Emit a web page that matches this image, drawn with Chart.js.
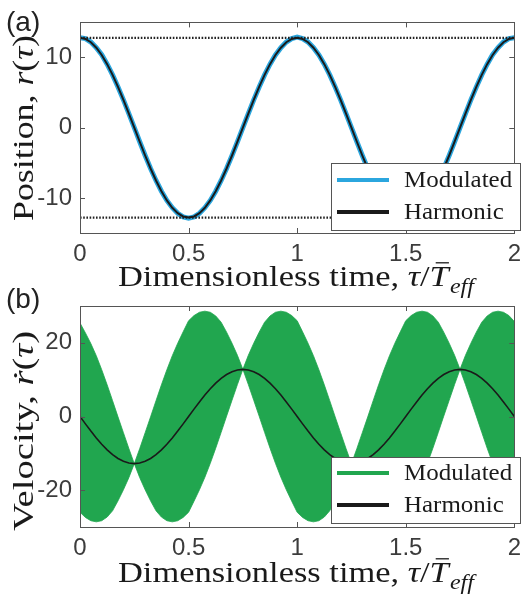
<!DOCTYPE html>
<html>
<head>
<meta charset="utf-8">
<script src="https://cdn.jsdelivr.net/npm/chart.js@4.4.1/dist/chart.umd.min.js"></script>
<style>
  body { margin: 0; background: #fff; }
  #wrap { position: relative; width: 528px; height: 595px; }
  canvas { position: absolute; left: 0; }
  #posChart { top: 0; }
  #velChart { top: 280px; }
</style>
</head>
<body>
<div id="wrap">
  <canvas id="posChart" width="528" height="300"></canvas>
  <canvas id="velChart" width="528" height="315"></canvas>
</div>
<script>
// dimensionless time tau / T_eff
const tau = [
  0, 0.025, 0.05, 0.075, 0.1, 0.125, 0.15, 0.175, 0.2, 0.225,
  0.25, 0.275, 0.3, 0.325, 0.35, 0.375, 0.4, 0.425, 0.45, 0.475,
  0.5, 0.525, 0.55, 0.575, 0.6, 0.625, 0.65, 0.675, 0.7, 0.725,
  0.75, 0.775, 0.8, 0.825, 0.85, 0.875, 0.9, 0.925, 0.95, 0.975,
  1, 1.025, 1.05, 1.075, 1.1, 1.125, 1.15, 1.175, 1.2, 1.225,
  1.25, 1.275, 1.3, 1.325, 1.35, 1.375, 1.4, 1.425, 1.45, 1.475,
  1.5, 1.525, 1.55, 1.575, 1.6, 1.625, 1.65, 1.675, 1.7, 1.725,
  1.75, 1.775, 1.8, 1.825, 1.85, 1.875, 1.9, 1.925, 1.95, 1.975, 2
];

// (a) position
const posHarmonic = [
  12.8, 12.64, 12.17, 11.4, 10.36, 9.05, 7.52, 5.81, 3.96, 2.0,
  0, -2.0, -3.96, -5.81, -7.52, -9.05, -10.36, -11.4, -12.17, -12.64,
  -12.8, -12.64, -12.17, -11.4, -10.36, -9.05, -7.52, -5.81, -3.96, -2.0,
  0, 2.0, 3.96, 5.81, 7.52, 9.05, 10.36, 11.4, 12.17, 12.64,
  12.8, 12.64, 12.17, 11.4, 10.36, 9.05, 7.52, 5.81, 3.96, 2.0,
  0, -2.0, -3.96, -5.81, -7.52, -9.05, -10.36, -11.4, -12.17, -12.64,
  -12.8, -12.64, -12.17, -11.4, -10.36, -9.05, -7.52, -5.81, -3.96, -2.0,
  0, 2.0, 3.96, 5.81, 7.52, 9.05, 10.36, 11.4, 12.17, 12.64, 12.8
];
const posModulated = [
  12.8, 12.7, 12.2, 11.4, 10.4, 9.05, 7.52, 5.81, 3.96, 2.0,
  0, -2.0, -3.96, -5.81, -7.52, -9.05, -10.36, -11.4, -12.2, -12.7,
  -12.9, -12.7, -12.2, -11.4, -10.36, -9.05, -7.52, -5.81, -3.96, -2.0,
  0, 2.0, 3.96, 5.81, 7.52, 9.05, 10.36, 11.4, 12.2, 12.7,
  12.9, 12.7, 12.2, 11.4, 10.36, 9.05, 7.52, 5.81, 3.96, 2.0,
  0, -2.0, -3.96, -5.81, -7.52, -9.05, -10.36, -11.4, -12.17, -12.64,
  -12.8, -12.64, -12.17, -11.4, -10.36, -9.05, -7.52, -5.81, -3.96, -2.0,
  0, 2.0, 3.96, 5.81, 7.52, 9.05, 10.4, 11.4, 12.2, 12.7, 12.8
];
const posBoundLevels = [12.8, -12.8];
const posBoundSpan = [0, 2];

// (b) velocity
const velHarmonic = [
  0, -2.0, -3.96, -5.81, -7.52, -9.05, -10.36, -11.4, -12.17, -12.64,
  -12.8, -12.64, -12.17, -11.4, -10.36, -9.05, -7.52, -5.81, -3.96, -2.0,
  0, 2.0, 3.96, 5.81, 7.52, 9.05, 10.36, 11.4, 12.17, 12.64,
  12.8, 12.64, 12.17, 11.4, 10.36, 9.05, 7.52, 5.81, 3.96, 2.0,
  0, -2.0, -3.96, -5.81, -7.52, -9.05, -10.36, -11.4, -12.17, -12.64,
  -12.8, -12.64, -12.17, -11.4, -10.36, -9.05, -7.52, -5.81, -3.96, -2.0,
  0, 2.0, 3.96, 5.81, 7.52, 9.05, 10.36, 11.4, 12.17, 12.64,
  12.8, 12.64, 12.17, 11.4, 10.36, 9.05, 7.52, 5.81, 3.96, 2.0, 0
];
// upper / lower envelope of the fast modulated oscillation
const velModUpper = [
  25.4, 22.7, 19.8, 16.5, 12.7, 8.6, 4.3, -0.1, -4.4, -8.7,
  -12.8, -8.7, -4.4, -0.1, 4.3, 8.6, 12.7, 16.5, 19.9, 23.0,
  26.0, 27.4, 28.3, 28.6, 28.3, 27.3, 25.6, 22.9, 19.9, 16.6,
  12.8, 16.6, 19.9, 22.9, 25.6, 27.3, 28.3, 28.6, 28.3, 27.4,
  26.0, 23.0, 19.9, 16.5, 12.7, 8.6, 4.3, -0.1, -4.4, -8.7,
  -12.8, -8.7, -4.4, -0.1, 4.3, 8.6, 12.7, 16.5, 19.9, 23.0,
  26.0, 27.4, 28.3, 28.6, 28.3, 27.3, 25.6, 22.9, 19.9, 16.6,
  12.8, 16.6, 19.9, 22.9, 25.6, 27.3, 28.3, 28.6, 28.3, 27.4, 25.8
];
const velModLower = [
  -26.0, -27.4, -28.3, -28.6, -28.3, -27.3, -25.6, -22.9, -19.9, -16.6,
  -12.8, -16.6, -19.9, -22.9, -25.6, -27.3, -28.3, -28.6, -28.3, -27.4,
  -26.0, -23.0, -19.9, -16.5, -12.7, -8.6, -4.3, 0.1, 4.4, 8.7,
  12.8, 8.7, 4.4, 0.1, -4.3, -8.6, -12.7, -16.5, -19.9, -23.0,
  -26.0, -27.4, -28.3, -28.6, -28.3, -27.3, -25.6, -22.9, -19.9, -16.6,
  -12.8, -16.6, -19.9, -22.9, -25.6, -27.3, -28.3, -28.6, -28.3, -27.4,
  -26.0, -23.0, -19.9, -16.5, -12.7, -8.6, -4.3, 0.1, 4.4, 8.7,
  12.8, 8.7, 4.4, 0.1, -4.3, -8.6, -12.7, -16.5, -19.9, -23.0, -25.8
];

const xTicks = [0, 0.5, 1, 1.5, 2];
const posTicks = [-10, 0, 10];
const velTicks = [-20, 0, 20];
const legendLabels = ["Modulated", "Harmonic"];

const BLUE = "#2ba6de";
const GREEN = "#21a64f";
const SERIF = '"Liberation Serif", "DejaVu Serif", serif';
const SANS = '"Liberation Sans", Arial, sans-serif';

function pts(ys) {
  return tau.map((t, i) => ({ x: t, y: ys[i] }));
}

// draw a run of text pieces with different styles, stretched to a given width
function richText(ctx, parts, x, y, size, rotate, target) {
  ctx.save();
  ctx.translate(x, y);
  if (rotate) ctx.rotate(-Math.PI / 2);
  ctx.fillStyle = "#1a1a1a";
  ctx.strokeStyle = "#1a1a1a";
  ctx.textBaseline = "alphabetic";
  ctx.textAlign = "left";
  let total = 0;
  const widths = parts.map(p => {
    const s = p.sub ? size * 0.7 : size;
    ctx.font = (p.italic ? "italic " : "") + s + "px " + SERIF;
    const w = ctx.measureText(p.t).width + (p.pad || 0);
    total += w;
    return w;
  });
  if (target) ctx.scale(target / total, 1);
  let cx = -total / 2;
  parts.forEach((p, i) => {
    const s = p.sub ? size * 0.7 : size;
    ctx.font = (p.italic ? "italic " : "") + s + "px " + SERIF;
    const dy = p.sub ? size * 0.25 : 0;
    ctx.fillText(p.t, cx, dy);
    if (p.bar) {
      ctx.lineWidth = 1.3;
      ctx.beginPath();
      ctx.moveTo(cx + widths[i] * 0.3, -size * 0.8);
      ctx.lineTo(cx + widths[i] * 0.95, -size * 0.8);
      ctx.stroke();
    }
    cx += widths[i];
  });
  ctx.restore();
}

const xTitleParts = [
  { t: "Dimensionless time, " },
  { t: "τ", italic: true },
  { t: "/" },
  { t: "T", italic: true, bar: true, pad: 1 },
  { t: "eff", italic: true, sub: true }
];

const decor = {
  id: "decor",
  afterDraw(chart, args, opts) {
    const ctx = chart.ctx;
    const a = chart.chartArea;
    const xs = chart.scales.x, ys = chart.scales.y;
    ctx.save();
    // box with inward ticks
    ctx.strokeStyle = "#555";
    ctx.lineWidth = 1;
    ctx.strokeRect(Math.round(a.left) + 0.5, Math.round(a.top) + 0.5,
      Math.round(a.right - a.left), Math.round(a.bottom - a.top));
    ctx.beginPath();
    xTicks.forEach(v => {
      const px = Math.round(xs.getPixelForValue(v)) + 0.5;
      ctx.moveTo(px, a.bottom); ctx.lineTo(px, a.bottom - 5);
      ctx.moveTo(px, a.top); ctx.lineTo(px, a.top + 5);
    });
    opts.yTicks.forEach(v => {
      const py = Math.round(ys.getPixelForValue(v)) + 0.5;
      ctx.moveTo(a.left, py); ctx.lineTo(a.left + 5, py);
      ctx.moveTo(a.right, py); ctx.lineTo(a.right - 5, py);
    });
    ctx.stroke();

    // legend box
    const L = opts.legend;
    ctx.fillStyle = "#fff";
    ctx.fillRect(L.x, L.y, L.w, L.h);
    ctx.strokeStyle = "#555";
    ctx.strokeRect(L.x + 0.5, L.y + 0.5, L.w, L.h);
    const colors = [opts.modColor, "#1a1a1a"];
    legendLabels.forEach((lab, i) => {
      const cy = L.rows[i];
      ctx.strokeStyle = colors[i];
      ctx.lineWidth = 4;
      ctx.beginPath();
      ctx.moveTo(L.x + 6, cy); ctx.lineTo(L.x + 58, cy);
      ctx.stroke();
      ctx.fillStyle = "#1a1a1a";
      ctx.font = "24px " + SERIF;
      ctx.textBaseline = "middle";
      ctx.textAlign = "left";
      ctx.save();
      ctx.translate(L.x + 73, cy + 1);
      ctx.scale(1.04, 1);
      ctx.fillText(lab, 0, 0);
      ctx.restore();
    });

    // panel label
    ctx.fillStyle = "#222";
    ctx.font = "28px " + SANS;
    ctx.textAlign = "left";
    ctx.textBaseline = "alphabetic";
    ctx.fillText(opts.panel, 6, opts.panelY);
    ctx.restore();

    // axis titles
    richText(ctx, xTitleParts, 296, opts.xTitleY, 29, false, 356);
    richText(ctx, opts.yTitle, 33, opts.yTitleY, 29, true, opts.yTitleLen);
  }
};

function scales(yMin, yMax, yT, xH) {
  return {
    x: {
      type: "linear", min: 0, max: 2,
      afterBuildTicks: s => { s.ticks = xTicks.map(v => ({ value: v })); },
      afterFit: s => { s.height = xH; },
      grid: { display: false, drawTicks: false },
      border: { display: false },
      ticks: {
        padding: 7, color: "#3c3c3c", maxRotation: 0,
        font: { family: SANS, size: 24 },
        callback: v => String(v)
      }
    },
    y: {
      type: "linear", min: yMin, max: yMax,
      afterBuildTicks: s => { s.ticks = yT.map(v => ({ value: v })); },
      afterFit: s => { s.width = 80; },
      grid: { display: false, drawTicks: false },
      border: { display: false },
      ticks: {
        padding: 8, color: "#3c3c3c",
        font: { family: SANS, size: 24 },
        callback: v => String(v)
      }
    }
  };
}

new Chart(document.getElementById("posChart"), {
  type: "line",
  data: {
    datasets: [
      { label: "Harmonic", data: pts(posHarmonic), borderColor: "#1a1a1a", borderWidth: 2, order: 0 },
      { label: "bound+", data: posBoundSpan.map(x => ({ x, y: posBoundLevels[0] })),
        borderColor: "#222", borderWidth: 2.2, borderDash: [1.6, 1.6], order: 1 },
      { label: "bound-", data: posBoundSpan.map(x => ({ x, y: posBoundLevels[1] })),
        borderColor: "#222", borderWidth: 2.2, borderDash: [1.6, 1.6], order: 1 },
      { label: "Modulated", data: pts(posModulated), borderColor: BLUE, borderWidth: 5, order: 2 }
    ]
  },
  options: {
    responsive: false, animation: false, devicePixelRatio: 1,
    layout: { padding: { top: 13, right: 7, left: 0, bottom: 0 } },
    elements: { point: { radius: 0 }, line: { tension: 0, fill: false } },
    scales: scales(-15, 15, posTicks, 67),
    plugins: {
      legend: { display: false }, tooltip: { enabled: false },
      decor: {
        yTicks: posTicks, modColor: BLUE, panel: "(a)", panelY: 31,
        xTitleY: 286, yTitleY: 128, yTitleLen: 186,
        yTitle: [{ t: "Position, " }, { t: "r", italic: true }, { t: "(" }, { t: "τ", italic: true }, { t: ")" }],
        legend: { x: 331, y: 163, w: 189, h: 67, rows: [180, 212] }
      }
    }
  },
  plugins: [decor]
});

new Chart(document.getElementById("velChart"), {
  type: "line",
  data: {
    datasets: [
      { label: "Harmonic", data: pts(velHarmonic), borderColor: "#1a1a1a", borderWidth: 1.6, order: 0 },
      { label: "lower", data: pts(velModLower), borderColor: GREEN, borderWidth: 0.8, order: 1 },
      { label: "Modulated", data: pts(velModUpper), borderColor: GREEN, borderWidth: 0.8,
        backgroundColor: GREEN, fill: "-1", order: 2 }
    ]
  },
  options: {
    responsive: false, animation: false, devicePixelRatio: 1,
    layout: { padding: { top: 26, right: 7, left: 0, bottom: 0 } },
    elements: { point: { radius: 0 }, line: { tension: 0 } },
    scales: scales(-30, 30, velTicks, 68),
    plugins: {
      legend: { display: false }, tooltip: { enabled: false },
      filler: { drawTime: "beforeDatasetsDraw" },
      decor: {
        yTicks: velTicks, modColor: GREEN, panel: "(b)", panelY: 28,
        xTitleY: 302, yTitleY: 151, yTitleLen: 200,
        yTitle: [{ t: "Velocity, " }, { t: "ṙ", italic: true }, { t: "(" }, { t: "τ", italic: true }, { t: ")" }],
        legend: { x: 331, y: 177, w: 189, h: 66, rows: [193, 225] }
      }
    }
  },
  plugins: [decor]
});
</script>
</body>
</html>
